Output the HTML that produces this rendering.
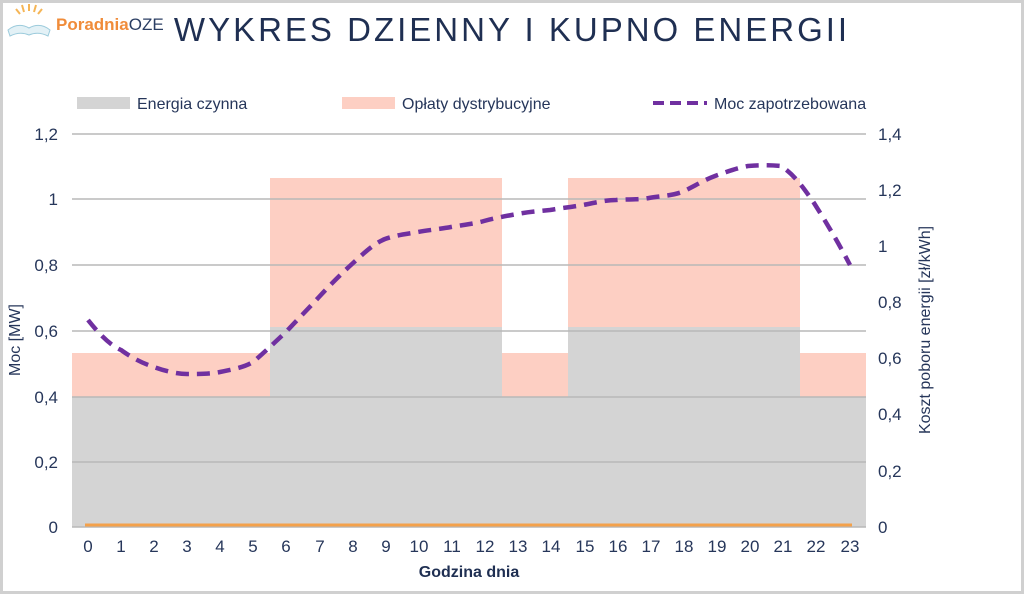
<!DOCTYPE html>
<html><head><meta charset="utf-8"><style>
body{margin:0;background:#fff;}
svg{display:block;font-family:"Liberation Sans",sans-serif;}
</style></head><body>
<svg width="1024" height="594" viewBox="0 0 1024 594">
<rect x="0" y="0" width="1024" height="594" fill="#fff"/>
<rect x="1.5" y="1.5" width="1021" height="591" fill="none" stroke="#d0d0d0" stroke-width="3"/>
<g stroke="#f5b556" stroke-width="2" fill="none">
<line x1="20" y1="14" x2="16" y2="9"/><line x1="24" y1="12" x2="22" y2="5"/><line x1="29" y1="11" x2="29" y2="4"/><line x1="34" y1="12" x2="36" y2="5"/><line x1="38" y1="14" x2="42" y2="9"/>
</g>
<path d="M8 30 Q18 22 29 28 Q40 22 50 30 L48 36 Q38 31 29 35 Q20 31 10 36 Z" fill="#e3f1f6" stroke="#9ccbdc" stroke-width="1"/>
<text x="56" y="30" font-size="17" font-weight="bold" fill="#f08c3a">Poradnia<tspan fill="#2b3e63" font-weight="normal">OZE</tspan></text>
<text x="512" y="41" text-anchor="middle" font-size="33" fill="#1f2f52" letter-spacing="3">WYKRES DZIENNY I KUPNO ENERGII</text>
<rect x="77" y="97" width="53" height="12" fill="#d4d4d4"/>
<text x="137" y="109" font-size="16" fill="#26365a">Energia czynna</text>
<rect x="342" y="97" width="53" height="12" fill="#fdcfc3"/>
<text x="402" y="109" font-size="16" fill="#26365a">Opłaty dystrybucyjne</text>
<line x1="653" y1="103" x2="707" y2="103" stroke="#7030a0" stroke-width="4" stroke-dasharray="11,6"/>
<text x="714" y="109" font-size="16" fill="#26365a">Moc zapotrzebowana</text>
<g fill="#fdcfc3">
<rect x="72" y="353" width="198" height="174"/>
<rect x="270" y="178" width="232" height="349"/>
<rect x="502" y="353" width="66" height="174"/>
<rect x="568" y="178" width="232" height="349"/>
<rect x="800" y="353" width="66" height="174"/>
</g>
<g fill="#d4d4d4">
<rect x="72" y="397" width="198" height="130"/>
<rect x="270" y="327" width="232" height="200"/>
<rect x="502" y="397" width="66" height="130"/>
<rect x="568" y="327" width="232" height="200"/>
<rect x="800" y="397" width="66" height="130"/>
</g>
<g stroke="#b8b8b8" stroke-width="1.5">
<line x1="72" y1="134" x2="866" y2="134"/><line x1="72" y1="199" x2="866" y2="199"/><line x1="72" y1="265" x2="866" y2="265"/><line x1="72" y1="331" x2="866" y2="331"/><line x1="72" y1="397" x2="866" y2="397"/><line x1="72" y1="462" x2="866" y2="462"/><line x1="72" y1="527" x2="866" y2="527"/>
</g>
<line x1="85" y1="525" x2="852" y2="525" stroke="#f4a14a" stroke-width="3"/>
<path d="M88 320 C100 335 110 345 121 350 C135 360 145 364 154 367 C165 371 177 374 187 374 C200 374 210 374 220 372 C235 369 245 367 253 362 C265 352 275 342 286 332 C297 320 308 309 319 297 C330 285 341 274 352 264 C363 254 373 244 385 239 C396 235 407 234 418 232 C429 230 440 229 451 227 C462 225 473 224 484 221 C495 218 506 216 517 214 C528 212 539 211 550 210 C561 208 572 207 583 205 C594 203 605 200 616 200 C627 199 638 200 649 198 C660 196 671 196 682 192 C693 187 704 180 715 176 C726 172 737 168 748 166 C760 165 770 165 781 166 C795 175 805 190 814 203 C826 222 838 242 850 265" fill="none" stroke="#7030a0" stroke-width="4.5" stroke-dasharray="13,8"/>
<g font-size="17" fill="#26365a" text-anchor="end">
<text x="58" y="140">1,2</text><text x="58" y="205">1</text><text x="58" y="271">0,8</text><text x="58" y="337">0,6</text><text x="58" y="403">0,4</text><text x="58" y="468">0,2</text><text x="58" y="533">0</text>
</g>
<g font-size="17" fill="#26365a">
<text x="878" y="140">1,4</text><text x="878" y="196">1,2</text><text x="878" y="252">1</text><text x="878" y="308">0,8</text><text x="878" y="364">0,6</text><text x="878" y="420">0,4</text><text x="878" y="477">0,2</text><text x="878" y="533">0</text>
</g>
<text transform="translate(20,340) rotate(-90)" text-anchor="middle" font-size="16" fill="#26365a">Moc [MW]</text>
<text transform="translate(930,330) rotate(-90)" text-anchor="middle" font-size="16" fill="#26365a">Koszt poboru energii [zł/kWh]</text>
<g font-size="17" fill="#26365a" text-anchor="middle">
<text x="88" y="552">0</text><text x="121" y="552">1</text><text x="154" y="552">2</text><text x="187" y="552">3</text><text x="220" y="552">4</text><text x="253" y="552">5</text><text x="286" y="552">6</text><text x="320" y="552">7</text><text x="353" y="552">8</text><text x="386" y="552">9</text><text x="419" y="552">10</text><text x="452" y="552">11</text><text x="485" y="552">12</text><text x="518" y="552">13</text><text x="551" y="552">14</text><text x="585" y="552">15</text><text x="618" y="552">16</text><text x="651" y="552">17</text><text x="684" y="552">18</text><text x="717" y="552">19</text><text x="750" y="552">20</text><text x="783" y="552">21</text><text x="816" y="552">22</text><text x="850" y="552">23</text>
</g>
<text x="469" y="577" text-anchor="middle" font-size="16" font-weight="bold" fill="#1f2f52">Godzina dnia</text>
</svg>
</body></html>
